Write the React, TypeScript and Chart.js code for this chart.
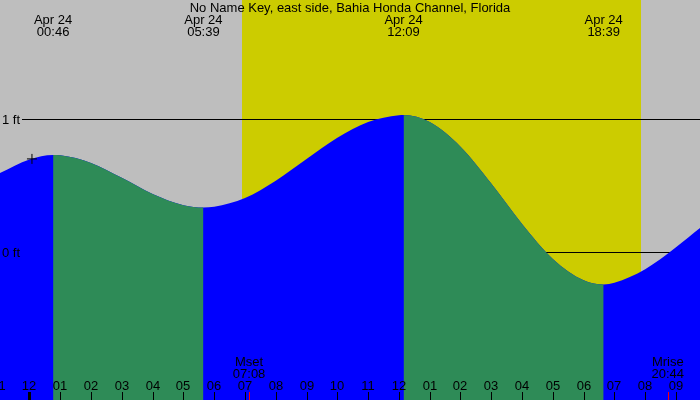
import React, { useEffect, useRef } from "react";
import { Chart, registerables } from "chart.js";

Chart.register(...registerables);

// ---- data (hours relative to Apr 24 00:00, heights in feet) ----
const title = "No Name Key, east side, Bahia Honda Channel, Florida";
const tideHours = [-0.958, 0, 0.767, 1, 2, 3, 4, 5, 5.65, 6, 7, 8, 9, 10, 11, 12, 12.15, 13, 14, 15, 16, 17, 18, 18.65, 19, 20, 21, 21.78];
const tideFeet = [0.594, 0.695, 0.729, 0.727, 0.67, 0.558, 0.436, 0.352, 0.335, 0.34, 0.406, 0.536, 0.699, 0.859, 0.977, 1.029, 1.03, 0.977, 0.792, 0.515, 0.211, -0.052, -0.213, -0.244, -0.232, -0.13, 0.035, 0.18];
const extremeHours = [0.767, 5.65, 12.15, 18.65];
const extremeDates = ["Apr 24", "Apr 24", "Apr 24", "Apr 24"];
const extremeTimes = ["00:46", "05:39", "12:09", "18:39"];
const hourTicks = [-1, 0, 1, 2, 3, 4, 5, 6, 7, 8, 9, 10, 11, 12, 13, 14, 15, 16, 17, 18, 19, 20, 21];
const hourLabels = ["11", "12", "01", "02", "03", "04", "05", "06", "07", "08", "09", "10", "11", "12", "01", "02", "03", "04", "05", "06", "07", "08", "09"];
const sunriseHour = 6.9;
const sunsetHour = 19.86;
const moonEventHours = [7.133, 20.733];
const moonEventNames = ["Mset", "Mrise"];
const moonEventTimes = ["07:08", "20:44"];
const levelLines = [1, 0];
const levelLabels = ["1 ft", "0 ft"];
const nowHour = [0.08];
const nowFeet = [0.7];

const X_MIN = -0.958;
const X_MAX = 21.78;
const Y_MIN = -1.113;
const Y_MAX = 1.895;

const GRAY = "#bebebe";
const YELLOW = "#cccc00";
const BLUE = "#0000ff";
const GREEN = "#2e8b57";
const FONT = '13px "Liberation Sans", Arial, sans-serif';

const backgroundPlugin = {
  id: "tideBackground",
  beforeDatasetsDraw(chart: any) {
    const { ctx, scales } = chart;
    const xs = scales.x;
    const ys = scales.y;
    const w = chart.width;
    const h = chart.height;
    ctx.save();
    ctx.fillStyle = GRAY;
    ctx.fillRect(0, 0, w, h);
    const x0 = Math.round(xs.getPixelForValue(sunriseHour));
    const x1 = Math.round(xs.getPixelForValue(sunsetHour));
    ctx.fillStyle = YELLOW;
    ctx.fillRect(x0, 0, x1 - x0, h);
    ctx.strokeStyle = "#000";
    ctx.lineWidth = 1;
    levelLines.forEach((v) => {
      const y = Math.round(ys.getPixelForValue(v)) + 0.5;
      ctx.beginPath();
      ctx.moveTo(22, y);
      ctx.lineTo(w, y);
      ctx.stroke();
    });
    ctx.restore();
  },
};

const overlayPlugin = {
  id: "tideOverlay",
  afterDatasetsDraw(chart: any) {
    const { ctx, scales } = chart;
    const xs = scales.x;
    const ys = scales.y;
    const h = chart.height;
    ctx.save();
    ctx.font = FONT;
    ctx.fillStyle = "#000";
    ctx.textBaseline = "alphabetic";
    ctx.textAlign = "center";
    ctx.fillText(title, chart.width / 2, 12);
    extremeHours.forEach((hr, i) => {
      const x = xs.getPixelForValue(hr);
      ctx.fillText(extremeDates[i], x, 24);
      ctx.fillText(extremeTimes[i], x, 36);
    });
    ctx.textAlign = "left";
    levelLines.forEach((v, i) => {
      const y = ys.getPixelForValue(v);
      ctx.fillText(levelLabels[i], 2, y + 5);
    });
    ctx.textAlign = "center";
    hourTicks.forEach((hr, i) => {
      const x = Math.round(xs.getPixelForValue(hr));
      ctx.fillStyle = "#000";
      ctx.fillText(hourLabels[i], x, 390);
      if (hr === 0) {
        ctx.fillRect(x - 1, 392, 3, h - 392);
      } else {
        ctx.fillRect(x, 392, 1, h - 392);
      }
    });
    moonEventHours.forEach((hr, i) => {
      const x = xs.getPixelForValue(hr);
      ctx.fillStyle = "#000";
      ctx.fillText(moonEventNames[i], x, 366);
      ctx.fillText(moonEventTimes[i], x, 378);
      ctx.fillStyle = "#ff0000";
      ctx.fillRect(Math.round(x), 392, 1, h - 392);
    });
    ctx.restore();
  },
};

export default function App() {
  const canvasRef = useRef<HTMLCanvasElement | null>(null);

  useEffect(() => {
    document.body.style.margin = "0";
    const canvas = canvasRef.current;
    if (!canvas) return;
    const tidePoints = tideHours.map((x, i) => ({ x, y: tideFeet[i] }));
    const chart = new Chart(canvas, {
      type: "line",
      data: {
        datasets: [
          {
            label: "now",
            data: nowHour.map((x, i) => ({ x, y: nowFeet[i] })),
            showLine: false,
            pointStyle: "cross",
            pointRadius: 5,
            pointBorderColor: "#000",
            pointBorderWidth: 1,
            fill: false,
          } as any,
          {
            label: "falling",
            data: tidePoints,
            fill: "start",
            borderWidth: 0,
            borderColor: "rgba(0,0,0,0)",
            backgroundColor: GREEN,
            pointRadius: 0,
            cubicInterpolationMode: "monotone",
            segment: {
              backgroundColor: (c: any) => (c.p1.parsed.y >= c.p0.parsed.y ? "rgba(0,0,0,0)" : GREEN),
            },
          } as any,
          {
            label: "tide",
            data: tidePoints,
            fill: "start",
            borderWidth: 0,
            borderColor: "rgba(0,0,0,0)",
            backgroundColor: BLUE,
            pointRadius: 0,
            cubicInterpolationMode: "monotone",
          } as any,
        ],
      },
      options: {
        responsive: false,
        animation: false,
        events: [],
        layout: { padding: 0, autoPadding: false },
        plugins: {
          legend: { display: false },
          tooltip: { enabled: false },
          title: { display: false },
        },
        scales: {
          x: { type: "linear", min: X_MIN, max: X_MAX, display: false },
          y: { type: "linear", min: Y_MIN, max: Y_MAX, display: false },
        },
      } as any,
      plugins: [backgroundPlugin, overlayPlugin],
    });
    return () => chart.destroy();
  }, []);

  return (
    <div style={{ position: "absolute", left: 0, top: 0, width: 700, height: 400 }}>
      <canvas ref={canvasRef} width={700} height={400} style={{ display: "block" }} />
    </div>
  );
}
